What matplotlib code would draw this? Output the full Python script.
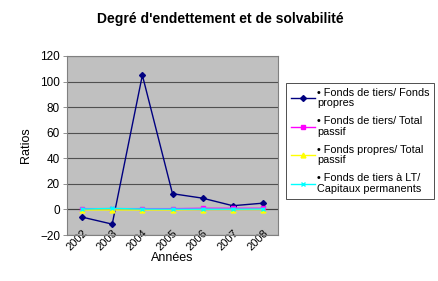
import matplotlib
matplotlib.use("Agg")
import matplotlib.pyplot as plt

plt.rcParams['font.family'] = ['Liberation Sans', 'DejaVu Sans']

annees = ['2002', '2003', '2004', '2005', '2006', '2007', '2008']
tiers_fp = [-6, -11.5, 105, 12.3, 8.8, 2.9, 4.9]
tiers_passif = [0.6, 0.6, 0.6, 0.6, 0.9, 0.9, 0.9]
fp_passif = [-0.4, -0.4, -0.4, -0.4, -0.1, -0.1, -0.1]
lt_cap = [0.3, 0.8, 0.3, 0.2, 0.2, 0.2, 0.3]

labels = ['• Fonds de tiers/ Fonds\npropres',
          '• Fonds de tiers/ Total\npassif',
          '• Fonds propres/ Total\npassif',
          '• Fonds de tiers à LT/\nCapitaux permanents']

fig = plt.figure(figsize=(4.38, 2.81), dpi=100)
ax = fig.add_axes([67/438, 1 - 235/281, 211/438, 179/281])
ax.set_facecolor('#c0c0c0')

x = range(len(annees))
ax.plot(x, tiers_fp, color='#000080', marker='D', markersize=3, lw=1, label=labels[0])
ax.plot(x, tiers_passif, color='#ff00ff', marker='s', markersize=3.5, lw=1, label=labels[1])
ax.plot(x, fp_passif, color='#ffff00', marker='^', markersize=3.5, lw=1, label=labels[2])
ax.plot(x, lt_cap, color='#00ffff', marker='x', markersize=3.5, lw=1, label=labels[3])

ax.set_xlim(-0.5, len(annees) - 0.5)
ax.set_ylim(-20, 120)
ax.set_yticks(range(-20, 121, 20))
ax.set_xticks(list(x))
ax.set_xticklabels(annees, rotation=45, ha='right', rotation_mode='anchor', fontsize=8)
ax.tick_params(axis='y', labelsize=8.5, length=3, width=0.6, color='#808080', pad=2)
ax.tick_params(axis='x', length=0, pad=-5)
ax.set_axisbelow(True)
ax.yaxis.grid(True, color='#505050', lw=0.8)
ax.axhline(0, color='#404040', lw=0.8, zorder=1)
for s in ax.spines.values():
    s.set_color('#808080')
    s.set_linewidth(0.8)

ax.set_ylabel('Ratios', fontsize=9, labelpad=6)
fig.text(172/438, 1 - 258/281, 'Années', ha='center', va='center', fontsize=9)
fig.text(220/438, 1 - 19/281, "Degré d'endettement et de solvabilité",
         ha='center', va='center', fontsize=10, fontweight='bold')

leg = fig.legend(loc='upper left', bbox_to_anchor=(286/438, 1 - 83/281),
                 fontsize=7.8, frameon=True, fancybox=False, edgecolor='#000000',
                 handlelength=2.2, labelspacing=0.75, borderpad=0.45,
                 handletextpad=0.2, borderaxespad=0)
for t in leg.get_texts():
    t.set_linespacing(1.05)
leg.get_frame().set_linewidth(0.6)

fig.savefig('out.png', dpi=100, facecolor='white')
